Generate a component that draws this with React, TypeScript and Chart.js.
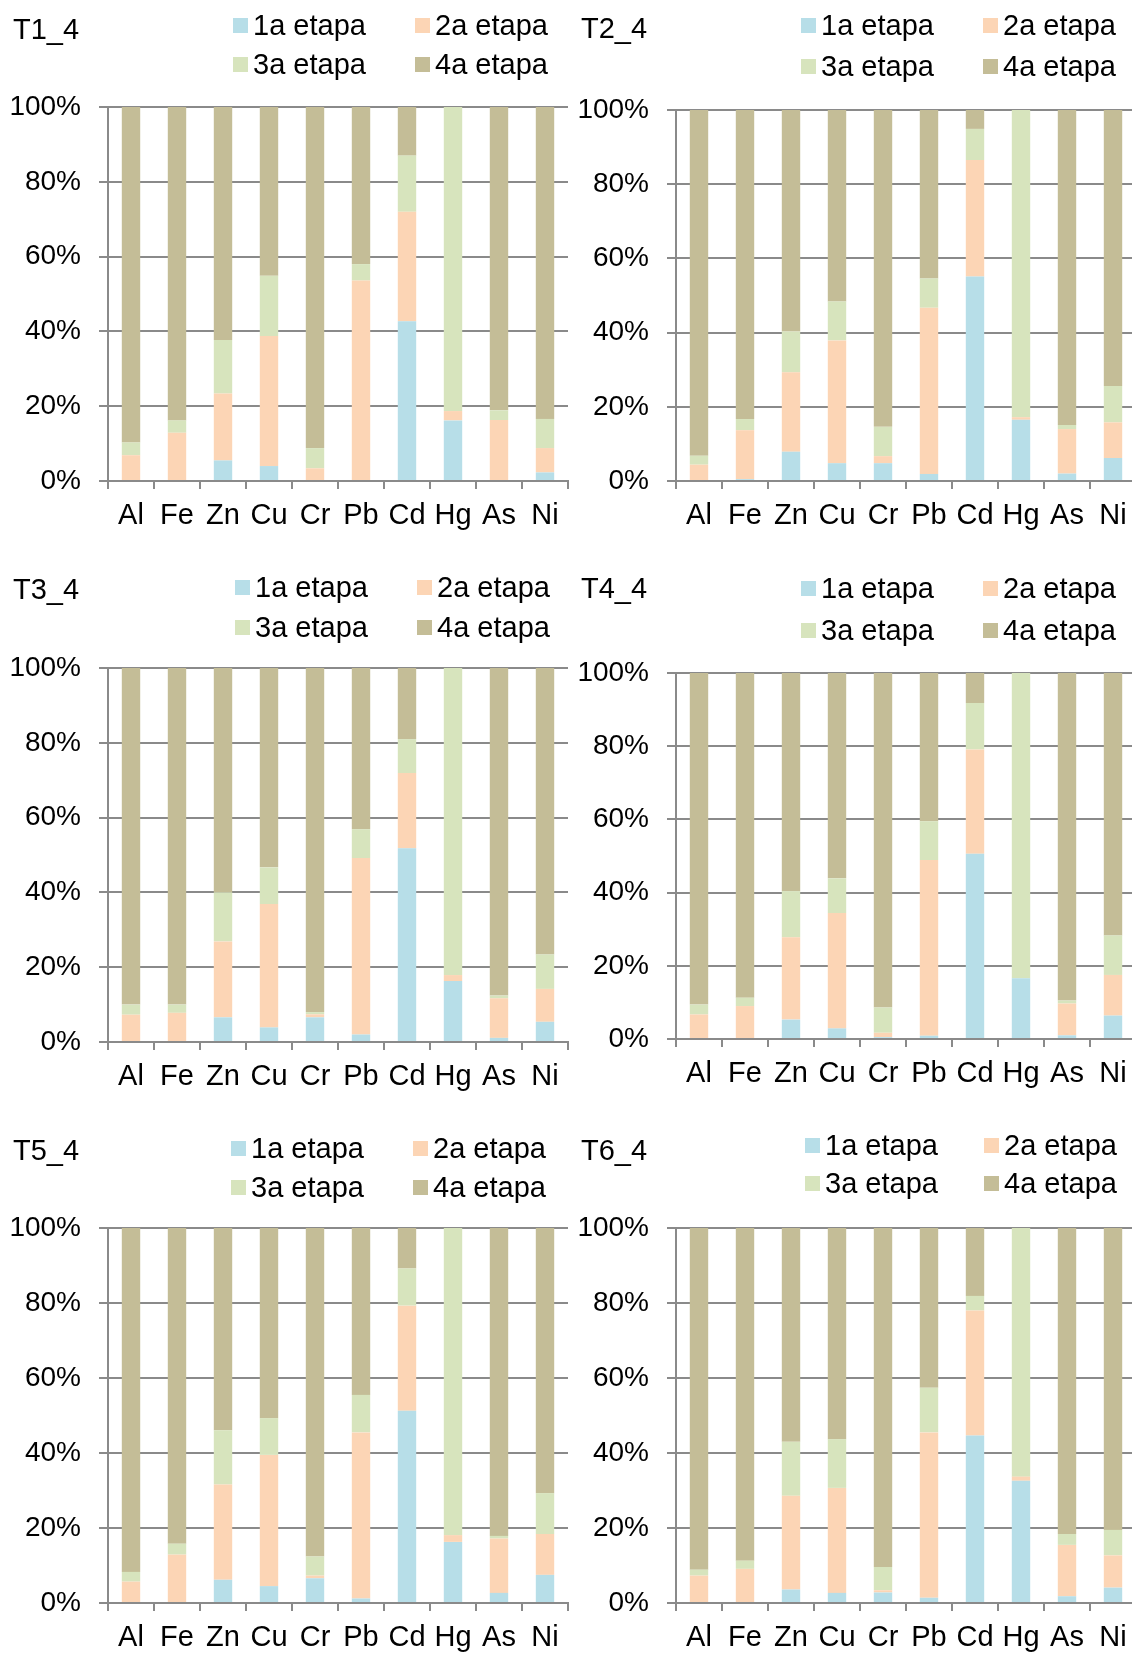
import React, { useEffect, useRef } from 'react';
import { Chart, registerables } from 'chart.js';

Chart.register(...registerables);

// ---------- data ----------
const elements = ['Al', 'Fe', 'Zn', 'Cu', 'Cr', 'Pb', 'Cd', 'Hg', 'As', 'Ni'];
const stageLabels = ['1a etapa', '2a etapa', '3a etapa', '4a etapa'];
const yTickValues = [0, 20, 40, 60, 80, 100];

// T1_4
const t1Stage1 = [0, 0, 5.5, 4.0, 0, 0, 42.7, 16.2, 0, 2.3];
const t1Stage2 = [6.9, 12.9, 17.9, 34.8, 3.4, 53.6, 29.3, 2.5, 16.3, 6.5];
const t1Stage3 = [3.4, 3.3, 14.3, 16.1, 5.4, 4.4, 15.0, 81.3, 2.6, 7.8];
const t1Stage4 = [89.7, 83.8, 62.3, 45.1, 91.2, 42.0, 13.0, 0, 81.1, 83.4];

// T2_4
const t2Stage1 = [0, 0.5, 7.9, 4.8, 4.8, 1.9, 55.1, 16.5, 2.0, 6.2];
const t2Stage2 = [4.4, 13.2, 21.4, 33.1, 1.9, 44.8, 31.4, 0.7, 12.0, 9.6];
const t2Stage3 = [2.4, 3.0, 11.0, 10.5, 7.9, 7.9, 8.4, 82.8, 1.1, 9.8];
const t2Stage4 = [93.2, 83.3, 59.7, 51.6, 85.4, 45.4, 5.1, 0, 84.9, 74.4];

// T3_4
const t3Stage1 = [0, 0, 6.6, 3.9, 6.6, 2.0, 51.8, 16.3, 1.1, 5.4];
const t3Stage2 = [7.3, 7.8, 20.3, 33.0, 0.8, 47.2, 20.1, 1.6, 10.6, 8.8];
const t3Stage3 = [2.7, 2.2, 13.1, 9.8, 0.6, 7.7, 9.1, 82.1, 0.7, 9.2];
const t3Stage4 = [90.0, 90.0, 60.0, 53.3, 92.0, 43.1, 19.0, 0, 87.6, 76.6];

// T4_4
const t4Stage1 = [0, 0, 5.3, 2.9, 0.5, 0.9, 50.6, 16.6, 1.0, 6.4];
const t4Stage2 = [6.7, 9.0, 22.5, 31.5, 1.2, 48.0, 28.5, 0, 8.7, 11.1];
const t4Stage3 = [2.7, 2.3, 12.6, 9.5, 6.9, 10.6, 12.7, 83.4, 0.8, 10.8];
const t4Stage4 = [90.6, 88.7, 59.6, 56.1, 91.4, 40.5, 8.2, 0, 89.5, 71.7];

// T5_4
const t5Stage1 = [0, 0, 6.2, 4.5, 6.6, 1.2, 51.3, 16.3, 2.7, 7.5];
const t5Stage2 = [5.7, 12.9, 25.4, 35.0, 0.7, 44.3, 28.0, 1.8, 14.5, 10.9];
const t5Stage3 = [2.6, 2.9, 14.5, 9.8, 5.1, 10.0, 9.9, 81.9, 0.7, 10.9];
const t5Stage4 = [91.7, 84.2, 53.9, 50.7, 87.6, 44.5, 10.8, 0, 82.1, 70.7];

// T6_4
const t6Stage1 = [0, 0, 3.6, 2.7, 2.8, 1.4, 44.7, 32.6, 1.8, 4.1];
const t6Stage2 = [7.3, 9.1, 25.0, 28.0, 0.6, 44.1, 33.3, 1.1, 13.7, 8.6];
const t6Stage3 = [1.6, 2.2, 14.4, 13.0, 6.2, 11.9, 3.9, 66.3, 2.9, 6.8];
const t6Stage4 = [91.1, 88.7, 57.0, 56.3, 90.4, 42.6, 18.1, 0, 81.6, 80.5];

// ---------- styles ----------
const stageColors = ['#B7DEE8', '#FCD5B5', '#D7E4BD', '#C4BD97'];
const GRID = '#8a8a8a';
const FONT = "'Liberation Sans', Arial, sans-serif";
const TICK_FONT_SIZE = 28;
const LABEL_FONT_SIZE = 29;

type Layout = {
  cx: number; cy: number; cw: number; ch: number;
  left: number; right: number; top: number; bottom: number;
  titleX: number; titleY: number;
  sq1: number; sq2: number; row1: number; row2: number;
};

const panels: { title: string; stages: number[][]; layout: Layout }[] = [
  {
    title: 'T1_4', stages: [t1Stage1, t1Stage2, t1Stage3, t1Stage4],
    layout: { cx: 0, cy: 0, cw: 570, ch: 545, left: 108, right: 568, top: 107, bottom: 481,
      titleX: 13, titleY: 29, sq1: 233, sq2: 415, row1: 25.5, row2: 64.5 },
  },
  {
    title: 'T2_4', stages: [t2Stage1, t2Stage2, t2Stage3, t2Stage4],
    layout: { cx: 570, cy: 0, cw: 570, ch: 545, left: 676, right: 1136, top: 110, bottom: 481,
      titleX: 581, titleY: 28, sq1: 801, sq2: 983, row1: 25.5, row2: 66 },
  },
  {
    title: 'T3_4', stages: [t3Stage1, t3Stage2, t3Stage3, t3Stage4],
    layout: { cx: 0, cy: 545, cw: 570, ch: 560, left: 108, right: 568, top: 668, bottom: 1042,
      titleX: 13, titleY: 589, sq1: 235, sq2: 417, row1: 587.5, row2: 627 },
  },
  {
    title: 'T4_4', stages: [t4Stage1, t4Stage2, t4Stage3, t4Stage4],
    layout: { cx: 570, cy: 545, cw: 570, ch: 560, left: 676, right: 1136, top: 673, bottom: 1039,
      titleX: 581, titleY: 588, sq1: 801, sq2: 983, row1: 588, row2: 630.5 },
  },
  {
    title: 'T5_4', stages: [t5Stage1, t5Stage2, t5Stage3, t5Stage4],
    layout: { cx: 0, cy: 1105, cw: 570, ch: 548, left: 108, right: 568, top: 1228, bottom: 1603,
      titleX: 13, titleY: 1149.5, sq1: 231, sq2: 413, row1: 1148, row2: 1187 },
  },
  {
    title: 'T6_4', stages: [t6Stage1, t6Stage2, t6Stage3, t6Stage4],
    layout: { cx: 570, cy: 1105, cw: 570, ch: 548, left: 676, right: 1136, top: 1228, bottom: 1603,
      titleX: 581, titleY: 1149.5, sq1: 805, sq2: 984, row1: 1145, row2: 1183 },
  },
];

function Panel({ title, stages, layout }: { title: string; stages: number[][]; layout: Layout }) {
  const ref = useRef<HTMLCanvasElement | null>(null);
  useEffect(() => {
    if (!ref.current) return;
    const L = layout;
    const yW = L.left - L.cx;
    const padRight = L.cx + L.cw - L.right;
    const padTop = L.top - L.cy;
    const xH = L.cy + L.ch - L.bottom;
    const chart = new Chart(ref.current, {
      type: 'bar',
      data: {
        labels: elements,
        datasets: stages.map((vals, i) => ({
          label: stageLabels[i],
          data: vals,
          backgroundColor: stageColors[i],
          borderWidth: 0,
          categoryPercentage: 1,
          barPercentage: 0.4,
        })),
      },
      options: {
        animation: false,
        responsive: false,
        maintainAspectRatio: false,
        devicePixelRatio: 1,
        layout: { padding: { top: padTop, right: padRight, bottom: 0, left: 0 } },
        plugins: { legend: { display: false }, tooltip: { enabled: false }, title: { display: false } },
        scales: {
          x: {
            stacked: true,
            grid: { offset: true, drawOnChartArea: false, drawTicks: true, tickLength: 8, color: GRID, lineWidth: 2 },
            border: { display: true, color: GRID, width: 2 },
            ticks: { color: '#000', font: { family: FONT, size: LABEL_FONT_SIZE }, padding: 10, maxRotation: 0, autoSkip: false },
            afterFit: (s: any) => { s.height = xH; },
          },
          y: {
            stacked: true,
            min: 0,
            max: 100,
            afterBuildTicks: (s: any) => { s.ticks = yTickValues.map((v) => ({ value: v })); },
            grid: { color: GRID, lineWidth: 2, tickLength: 9, drawTicks: true },
            border: { display: true, color: GRID, width: 2 },
            ticks: { color: '#000', font: { family: FONT, size: TICK_FONT_SIZE }, padding: 18, callback: (v: any) => v + '%' },
            afterFit: (s: any) => { s.width = yW; },
          },
        },
      } as any,
    });
    return () => chart.destroy();
  }, [stages, layout]);

  const L = layout;
  const textStyle: React.CSSProperties = {
    position: 'absolute', fontFamily: FONT, fontSize: LABEL_FONT_SIZE, lineHeight: '32px', height: 32,
    color: '#000', whiteSpace: 'nowrap',
  };
  const legendPos = [
    { x: L.sq1, y: L.row1 }, { x: L.sq2, y: L.row1 },
    { x: L.sq1, y: L.row2 }, { x: L.sq2, y: L.row2 },
  ];
  return (
    <>
      <canvas
        ref={ref}
        width={L.cw}
        height={L.ch}
        style={{ position: 'absolute', left: L.cx, top: L.cy, width: L.cw, height: L.ch, display: 'block' }}
      />
      <div style={{ ...textStyle, left: L.titleX, top: L.titleY - 16 }}>{title}</div>
      {legendPos.map((p, i) => (
        <React.Fragment key={i}>
          <div style={{ position: 'absolute', left: p.x, top: p.y - 7.5, width: 15, height: 15, background: stageColors[i] }} />
          <div style={{ ...textStyle, left: p.x + 20, top: p.y - 16.5 }}>{stageLabels[i]}</div>
        </React.Fragment>
      ))}
    </>
  );
}

export default function App() {
  return (
    <div style={{ position: 'absolute', left: 0, top: 0, width: 1132, height: 1653, overflow: 'hidden', background: '#fff' }}>
      {panels.map((p) => (
        <Panel key={p.title} title={p.title} stages={p.stages} layout={p.layout} />
      ))}
    </div>
  );
}
